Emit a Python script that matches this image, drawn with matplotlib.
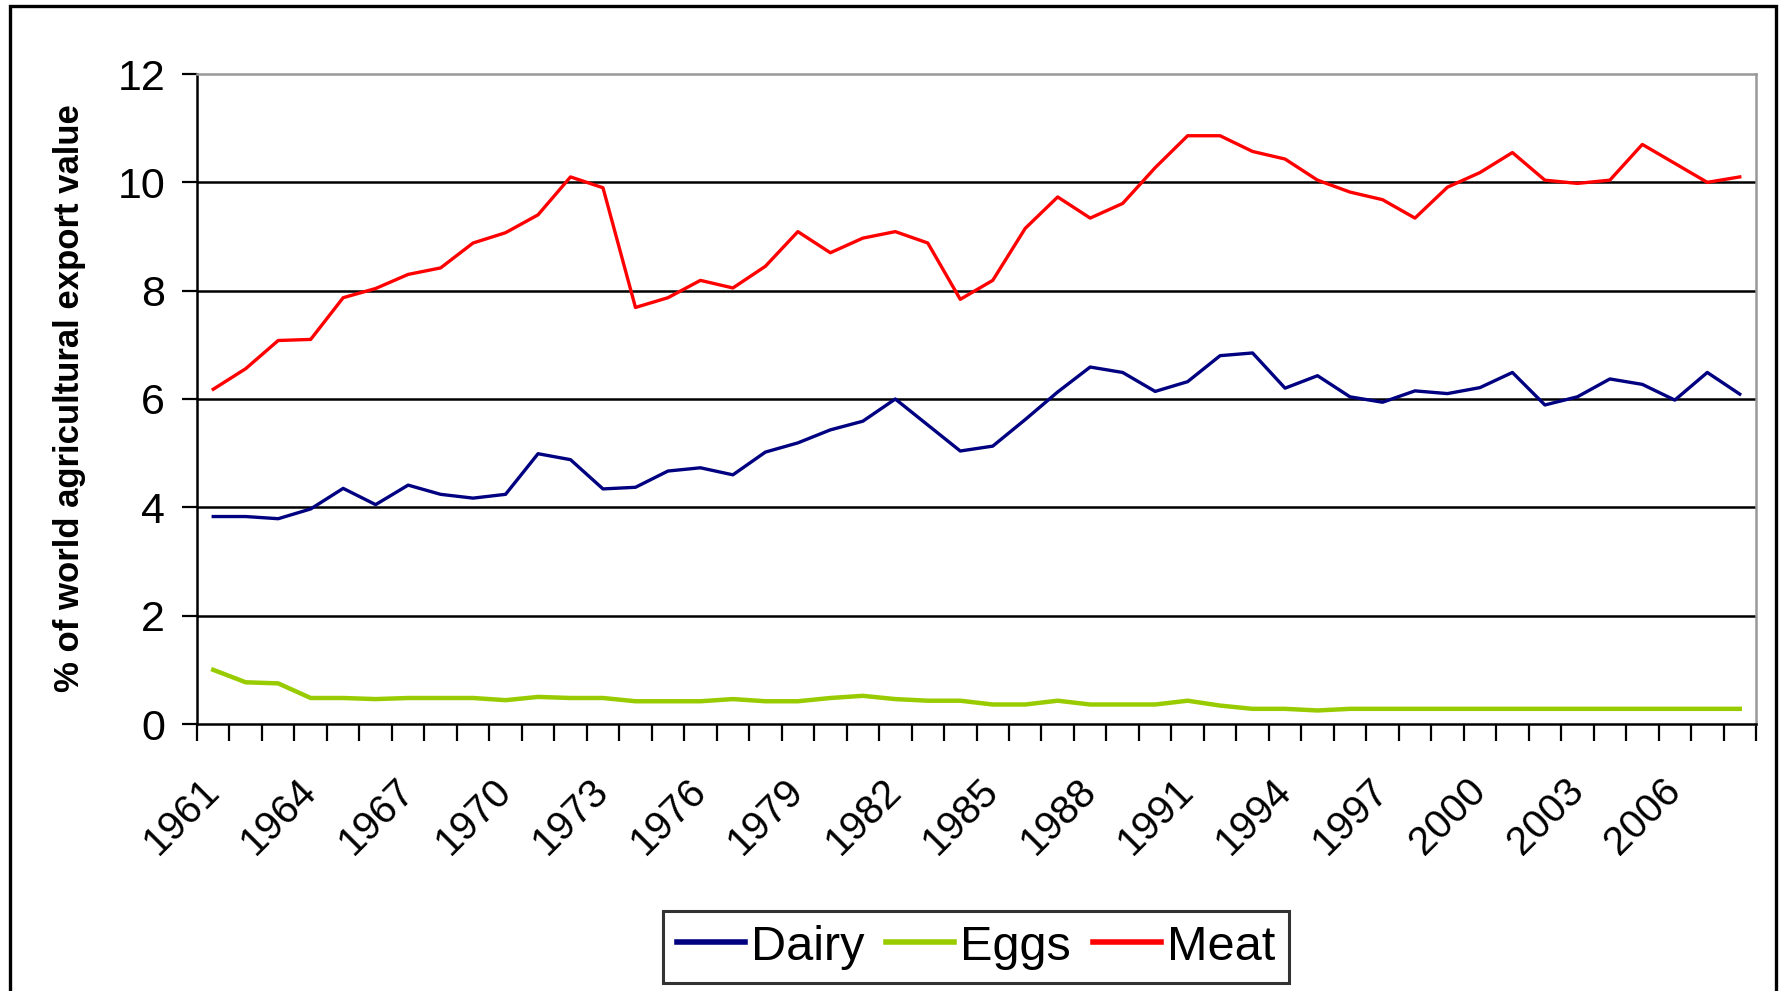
import numpy as np
import matplotlib; matplotlib.use('Agg')
import matplotlib.pyplot as plt
from matplotlib import font_manager
from matplotlib.patches import Rectangle
from matplotlib.lines import Line2D

# Data (share of world agricultural export value, %)
years = list(range(1961, 2009))
dairy = [3.83, 3.83, 3.79, 3.97, 4.35, 4.05, 4.41, 4.24, 4.17, 4.24,
         4.99, 4.88, 4.34, 4.37, 4.67, 4.73, 4.60, 5.02, 5.19, 5.43,
         5.59, 6.00, 5.52, 5.04, 5.13, 5.62, 6.13, 6.59, 6.49, 6.14,
         6.32, 6.80, 6.85, 6.20, 6.43, 6.04, 5.94, 6.15, 6.10, 6.21,
         6.49, 5.89, 6.04, 6.37, 6.27, 5.98, 6.49, 6.09]
eggs = [1.00, 0.77, 0.75, 0.48, 0.48, 0.46, 0.48, 0.48, 0.48, 0.44,
        0.50, 0.48, 0.48, 0.42, 0.42, 0.42, 0.46, 0.42, 0.42, 0.48,
        0.52, 0.46, 0.43, 0.43, 0.36, 0.36, 0.43, 0.36, 0.36, 0.36,
        0.43, 0.34, 0.28, 0.28, 0.25, 0.28, 0.28, 0.28, 0.28, 0.28,
        0.28, 0.28, 0.28, 0.28, 0.28, 0.28, 0.28, 0.28]
meat = [6.18, 6.56, 7.08, 7.10, 7.87, 8.04, 8.30, 8.42, 8.88, 9.07,
        9.40, 10.10, 9.90, 7.69, 7.87, 8.19, 8.05, 8.45, 9.09, 8.70,
        8.97, 9.09, 8.88, 7.84, 8.19, 9.15, 9.73, 9.34, 9.61, 10.27,
        10.86, 10.86, 10.57, 10.43, 10.04, 9.82, 9.68, 9.34, 9.91, 10.18,
        10.55, 10.04, 9.98, 10.04, 10.70, 10.35, 10.00, 10.10]
series_names = ['Dairy', 'Eggs', 'Meat']
series_colors = ['#000080', '#99CC00', '#FF0000']
y_ticks = [0, 2, 4, 6, 8, 10, 12]
ylabel = '% of world agricultural export value'

# narrow font if available (text in the original is squeezed sideways)
names = {f.name for f in font_manager.fontManager.ttflist}
if 'Liberation Sans Narrow' in names:
    font = 'Liberation Sans Narrow'
    ytick_fs, xtick_fs, leg_fs = 34, 34, 38
else:
    font = 'Liberation Sans'
    ytick_fs, xtick_fs, leg_fs = 31, 29, 35
plt.rcParams['font.family'] = [font, 'Liberation Sans', 'DejaVu Sans']

W, H = 1785, 991
fig = plt.figure(figsize=(W / 100, H / 100), dpi=100)
left, right, top, bottom = 197, 1756, 74, 724
ax = fig.add_axes([left / W, 1 - bottom / H, (right - left) / W, (bottom - top) / H])

x = np.arange(len(years))
for y in y_ticks[1:-1]:
    ax.axhline(y, color='black', lw=1.8, zorder=1)
ax.plot(x, dairy, color=series_colors[0], lw=2.4, zorder=3)
ax.plot(x, eggs, color=series_colors[1], lw=3.2, zorder=3)
ax.plot(x, meat, color=series_colors[2], lw=2.4, zorder=3)

ax.set_xlim(-0.5, len(years) - 0.5)
ax.set_ylim(0, 12)
ax.set_yticks(y_ticks)
ax.set_yticklabels([str(v) for v in y_ticks])
ax.tick_params(axis='y', length=11, width=1.6, pad=12, labelsize=ytick_fs)

# ticks on category boundaries, labels every 3 years at category centres
ax.set_xticks(np.arange(-0.5, len(years), 1))
ax.tick_params(axis='x', which='major', length=12, width=1.6, labelbottom=False)
lab_pos = x[::3]
ax.set_xticks(lab_pos, [str(years[i]) for i in lab_pos], minor=True,
              rotation=45, ha='right', va='center', rotation_mode='anchor')
ax.tick_params(axis='x', which='minor', length=0, pad=44, labelsize=xtick_fs)

for side in ['left', 'bottom']:
    ax.spines[side].set_color('black')
    ax.spines[side].set_linewidth(1.8)
for side in ['top', 'right']:
    ax.spines[side].set_color('#999999')
    ax.spines[side].set_linewidth(1.8)

fig.text(70 / W, 1 - 398 / H, ylabel, rotation=90, ha='center', va='center',
         fontsize=25, fontweight='bold', family=['Liberation Sans', 'DejaVu Sans'])

handles = [Line2D([], [], color=c, lw=4) for c in series_colors]
leg = fig.legend(handles, series_names, loc='center', bbox_to_anchor=(976 / W, 1 - 947 / H),
                 ncol=3, fontsize=leg_fs, frameon=True, fancybox=False, edgecolor='black',
                 handlelength=1.4, handletextpad=0.12, columnspacing=0.45, borderpad=0.28)
leg.get_frame().set_linewidth(2.2)

# outer chart border
fig.patches.append(Rectangle((10 / W, -0.05), (1776 - 10) / W, 1 - 6 / H + 0.05,
                             transform=fig.transFigure, fill=False, ec='black', lw=2.4))

fig.savefig('out.png', dpi=100)
